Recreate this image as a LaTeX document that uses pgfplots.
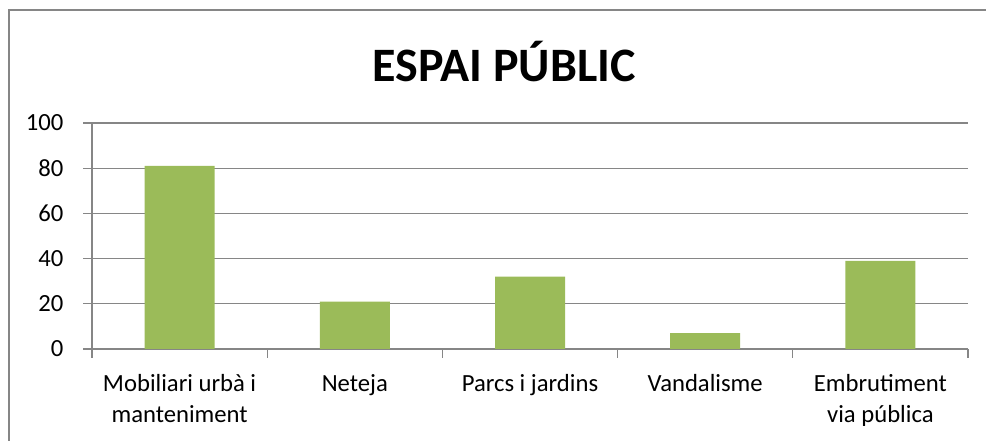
\documentclass[border=0pt]{standalone}
\usepackage{pgfplots}
\pgfplotsset{compat=1.18}
\usepackage{fontspec}
\setmainfont{Carlito}
\definecolor{barc}{HTML}{9BBB59}
\definecolor{gridc}{HTML}{868686}
\begin{document}
\begin{tikzpicture}
\useasboundingbox (0,0) rectangle (739.5pt,330.75pt);
\fill[gridc] (5.65pt,0pt) rectangle (7.15pt,324pt);
\fill[gridc] (5.65pt,322.5pt) rectangle (739.5pt,324pt);
\node[font=\fontsize{36}{40}\selectfont\bfseries] at (378pt,284.25pt) {ESPAI PÚBLIC};
\begin{axis}[
  at={(69pt,69pt)}, anchor=south west,
  scale only axis, width=657pt, height=169.5pt,
  xmin=-0.5, xmax=4.5, ymin=0, ymax=100,
  ytick={0,20,...,100},
  xtick={-0.5,0.5,...,4.5},
  x tick label as interval,
  xticklabels={{Mobiliari urbà i\\manteniment},{Neteja},{Parcs i jardins},{Vandalisme},{Embrutiment\\via pública}},
  tick label style={font=\fontsize{18.5}{23}\selectfont},
  xticklabel style={align=center, yshift=-9pt},
  yticklabel style={xshift=-11.5pt},
  /pgf/number format/assume math mode=true,
  axis x line*=bottom, axis y line*=left,
  axis line style={-, gridc, line width=0.9pt},
  tick align=outside, major tick length=6.5pt,
  tick style={gridc, line width=0.9pt},
  ymajorgrids, grid style={gridc, line width=0.9pt},
  ybar, bar width=52.5pt, bar shift=0pt,
]
\addplot[fill=barc, draw=none] coordinates {(0,81) (1,21) (2,32) (3,7) (4,39)};
\end{axis}
\end{tikzpicture}
\end{document}
